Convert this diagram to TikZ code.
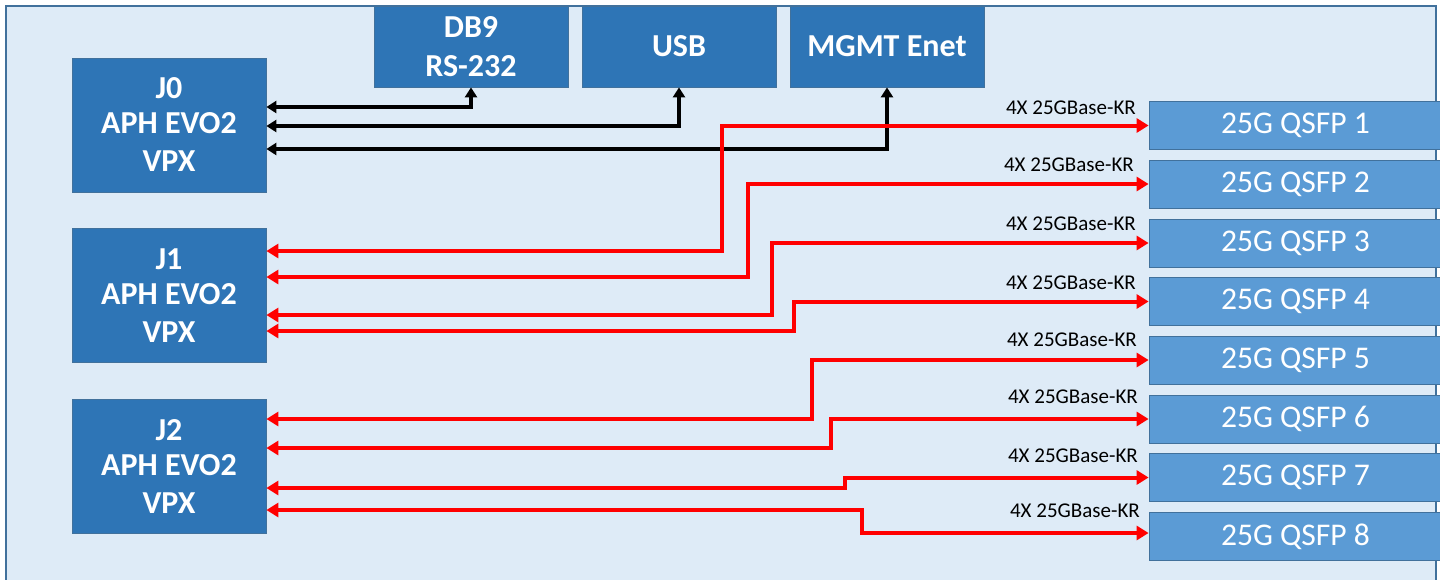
\documentclass[tikz,border=0pt]{standalone}
\usepackage{fontspec}
\setmainfont{Carlito}
\usetikzlibrary{arrows.meta}
\definecolor{bgblue}{HTML}{DEEBF7}
\definecolor{edgeblue}{HTML}{41719C}
\definecolor{darkbox}{HTML}{2E75B6}
\definecolor{lightbox}{HTML}{5B9BD5}
\definecolor{linkred}{HTML}{FF0000}
\begin{document}
\begin{tikzpicture}[x=1pt,y=-1pt,
  jbox/.style={fill=darkbox, draw=edgeblue, line width=0.8pt, text=white,
    font=\fontsize{32}{38}\selectfont\bfseries, align=center,
    minimum width=194pt, minimum height=134pt, inner sep=0pt},
  topbox/.style={fill=darkbox, draw=edgeblue, line width=0.8pt, text=white,
    font=\fontsize{32}{39}\selectfont\bfseries, align=center,
    minimum width=194pt, minimum height=81pt, inner sep=0pt},
  qbox/.style={fill=lightbox, draw=edgeblue, line width=0.8pt, text=white,
    font=\fontsize{31.6}{36}\selectfont, minimum width=293pt, minimum height=48pt, inner sep=0pt},
  lbl/.style={font=\fontsize{21}{24}\selectfont, anchor=east, inner sep=0pt},
  blk/.style={draw=black, line width=3.5pt, {Triangle[length=10pt,width=12pt]}-{Triangle[length=10pt,width=12pt]}},
  redl/.style={draw=linkred, line width=4pt, {Triangle[length=12pt,width=14pt]}-{Triangle[length=12pt,width=14pt]}}
]
\useasboundingbox (0,0) rectangle (1440,579);
\clip (0,0) rectangle (1440,579);
\draw[edgeblue, fill=bgblue, line width=1.5pt] (6,6) rectangle (1436,620);

% main modules
\node[jbox] (J0) at (169,125) {\raisebox{-3pt}{J0}\\APH EVO2\\VPX};
\node[jbox] (J1) at (169,295.5) {\raisebox{-3pt}{J1}\\APH EVO2\\VPX};
\node[jbox] (J2) at (169,466) {\raisebox{-3pt}{J2}\\APH EVO2\\VPX};

% top interfaces
\node[topbox] (db9) at (471,46.5) {DB9\\RS-232};
\node[topbox] (usb) at (679,46.5) {USB};
\node[topbox] (mgmt) at (887,46.5) {MGMT Enet};

% QSFP ports
\node[qbox] (q1) at (1295.5,125.5) {25G QSFP 1};
\node[qbox] (q2) at (1295.5,184) {25G QSFP 2};
\node[qbox] (q3) at (1295.5,243) {25G QSFP 3};
\node[qbox] (q4) at (1295.5,301.5) {25G QSFP 4};
\node[qbox] (q5) at (1295.5,360) {25G QSFP 5};
\node[qbox] (q6) at (1295.5,419) {25G QSFP 6};
\node[qbox] (q7) at (1295.5,477.5) {25G QSFP 7};
\node[qbox] (q8) at (1295.5,536.5) {25G QSFP 8};

% link labels
\node[lbl] (l1) at (1136,108) {4X 25GBase-KR};
\node[lbl] (l2) at (1134,165) {4X 25GBase-KR};
\node[lbl] (l3) at (1136,224) {4X 25GBase-KR};
\node[lbl] (l4) at (1136,283) {4X 25GBase-KR};
\node[lbl] (l5) at (1137,340) {4X 25GBase-KR};
\node[lbl] (l6) at (1138,397) {4X 25GBase-KR};
\node[lbl] (l7) at (1138,456) {4X 25GBase-KR};
\node[lbl] (l8) at (1140,511) {4X 25GBase-KR};

% black management links
\draw[blk] (J0.east|-0,107) -| (db9.south);
\draw[blk] (J0.east|-0,126) -| (usb.south);
\draw[blk] (J0.east|-0,149) -| (mgmt.south);

% red data links
\draw[redl] (J1.east|-0,251) -- (722,251) |- (q1.west);
\draw[redl] (J1.east|-0,277) -- (748,277) |- (q2.west);
\draw[redl] (J1.east|-0,315) -- (772,315) |- (q3.west);
\draw[redl] (J1.east|-0,331) -- (794,331) |- (q4.west);
\draw[redl] (J2.east|-0,419) -- (812,419) |- (q5.west);
\draw[redl] (J2.east|-0,448) -- (831,448) |- (q6.west);
\draw[redl] (J2.east|-0,488) -- (845,488) |- (q7.west);
\draw[redl] (J2.east|-0,510) -- (862,510) |- (q8.west|-0,533);
\end{tikzpicture}
\end{document}
